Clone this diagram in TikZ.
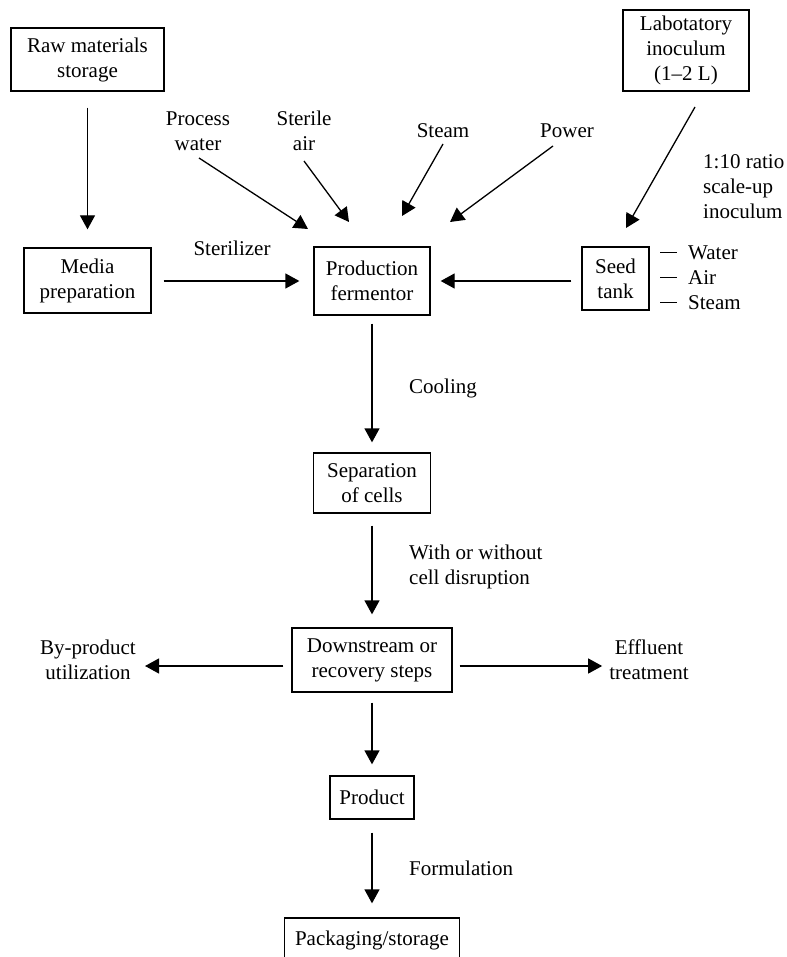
\documentclass[tikz,border=0pt]{standalone}
\usepackage{fontspec}
\setmainfont{Liberation Serif}
\usetikzlibrary{arrows.meta}
\begin{document}
\begin{tikzpicture}[x=1pt,y=-1pt,
  every node/.style={font=\fontsize{21}{25}\selectfont},
  box/.style={draw,line width=1.3pt,align=center,inner sep=0pt},
  lbl/.style={align=center,inner sep=0pt},
  lbll/.style={align=left,inner sep=0pt,anchor=west},
  arr/.style={line width=1.3pt,-{Triangle[length=14pt,width=15pt]}}]
\useasboundingbox (0,0) rectangle (786,957);
% boxes
\node[box,minimum width=153pt,minimum height=63pt] (raw) at (87.5,59.5) {Raw materials\\storage};
\node[box,minimum width=127pt,minimum height=65pt] (media) at (87.5,280.5) {Media\\preparation};
\node[box,minimum width=116pt,minimum height=68pt] (prod) at (372,281) {Production\\fermentor};
\node[box,minimum width=126pt,minimum height=81pt] (lab) at (686,50.5) {Labotatory\\inoculum\\(1--2 L)};
\node[box,minimum width=67pt,minimum height=63pt] (seed) at (615.5,278.5) {Seed\\tank};
\node[box,minimum width=117pt,minimum height=60pt] (sep) at (372,483) {Separation\\of cells};
\node[box,minimum width=160pt,minimum height=64pt] (down) at (372,660) {Downstream or\\recovery steps};
\node[box,minimum width=84pt,minimum height=43pt] (product) at (372,797.5) {Product};
\node[box,minimum width=175pt,minimum height=44pt] (pack) at (372,940) {Packaging/storage};
% labels
\node[lbl] (pw) at (198,131) {Process\\water};
\node[lbl] (sa) at (304,131) {Sterile\\air};
\node[lbl] (st) at (443,131) {Steam};
\node[lbl] (pow) at (567,131) {Power};
\node[lbl] (steril) at (232,248) {Sterilizer};
\node[lbll] (ratio) at (703,187) {1:10 ratio\\scale-up\\inoculum};
\node[lbll] (utils) at (660,278) {\rule[0.32em]{17pt}{1.1pt}\hspace{11pt}Water\\\rule[0.32em]{17pt}{1.1pt}\hspace{11pt}Air\\\rule[0.32em]{17pt}{1.1pt}\hspace{11pt}Steam};
\node[lbll] (cool) at (409,388) {Cooling};
\node[lbll] (disr) at (409,567) {With or without\\cell disruption};
\node[lbl] (byp) at (88,660) {By-product\\utilization};
\node[lbl] (eff) at (649,660) {Effluent\\treatment};
\node[lbll] (form) at (409,868) {Formulation};
% free ends
\coordinate (pwS) at (199,158);  \coordinate (pwT) at (308,229);
\coordinate (saS) at (304,161);  \coordinate (saT) at (349,222);
\coordinate (stS) at (443,144);  \coordinate (stT) at (402,216);
\coordinate (powS) at (553,146); \coordinate (powT) at (450,222);
\coordinate (labS) at (695,107); \coordinate (labT) at (626,228);
% connectors
\draw[arr] ([yshift=-16pt]raw.south) -- ([yshift=18pt]media.north);
\draw[arr] ([xshift=12pt,yshift=-0.5pt]media.east) -- ([xshift=-14pt]prod.west);
\draw[arr] ([xshift=-10pt,yshift=-2.5pt]seed.west) -- ([xshift=10pt]prod.east);
\draw[arr] (pwS) -- (pwT);
\draw[arr] (saS) -- (saT);
\draw[arr] (stS) -- (stT);
\draw[arr] (powS) -- (powT);
\draw[arr] (labS) -- (labT);
\draw[arr] ([yshift=-8pt]prod.south) -- ([yshift=10pt]sep.north);
\draw[arr] ([yshift=-12pt]sep.south) -- ([yshift=13pt]down.north);
\draw[arr] ([xshift=-8pt,yshift=-6pt]down.west) -- ([xshift=9pt,yshift=-6pt]byp.east);
\draw[arr] ([xshift=7pt,yshift=-6pt]down.east) -- ([xshift=-7pt,yshift=-6pt]eff.west);
\draw[arr] ([yshift=-10pt]down.south) -- ([yshift=11pt]product.north);
\draw[arr] ([yshift=-13pt]product.south) -- ([yshift=14pt]pack.north);
\end{tikzpicture}
\end{document}
